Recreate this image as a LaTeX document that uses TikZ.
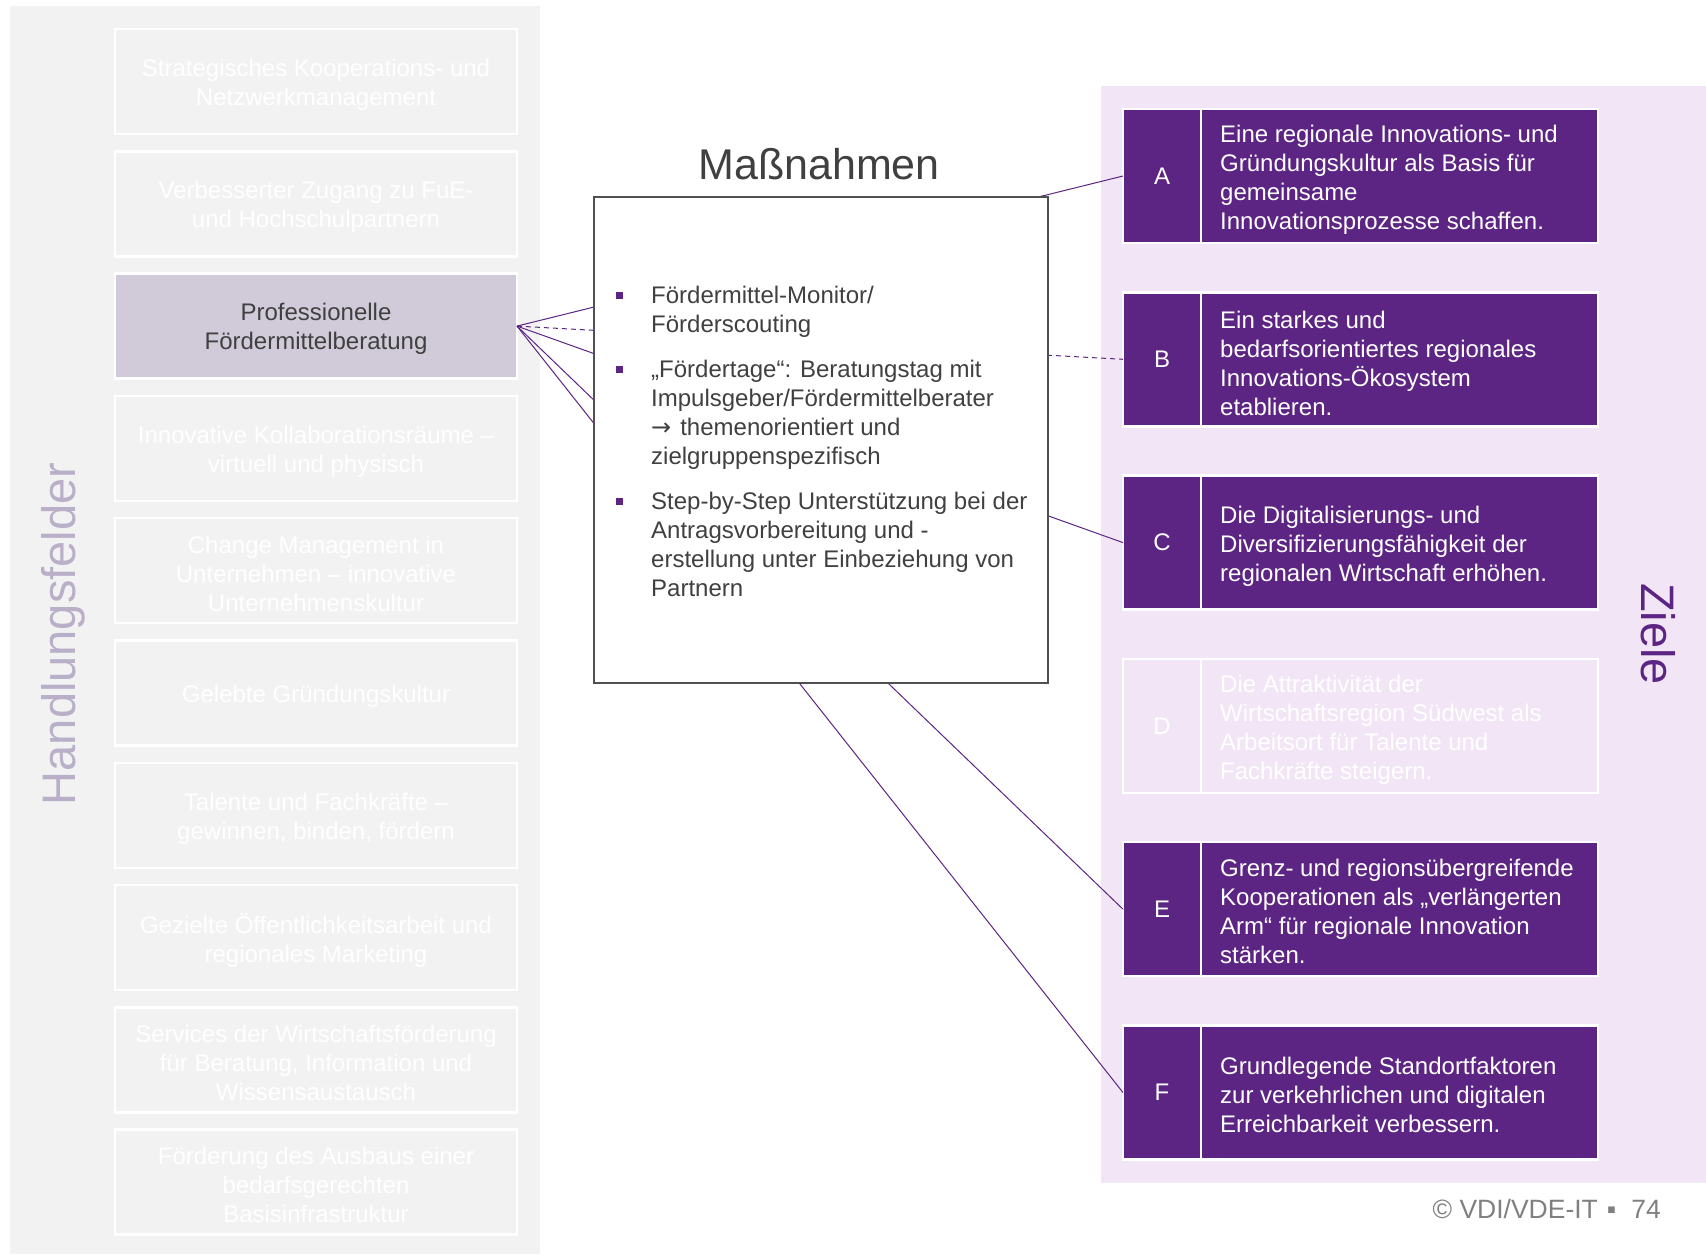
\documentclass[tikz,border=0pt]{standalone}
\usepackage{fontspec}
\setmainfont{Liberation Sans}
\newfontfamily\arrowfont{DejaVu Sans}
\definecolor{panelgray}{HTML}{F2F2F2}
\definecolor{hlfill}{HTML}{D1CAD9}
\definecolor{hfcol}{HTML}{B9AFC9}
\definecolor{lav}{HTML}{F2E6F6}
\definecolor{purp}{HTML}{5C2483}
\definecolor{dgray}{HTML}{404040}
\definecolor{boxline}{HTML}{505050}
\definecolor{footgray}{HTML}{808080}
\tikzset{
  fieldbox/.style={draw=white, line width=2.5pt, fill=panelgray, minimum width=402pt, minimum height=105pt, inner sep=0pt, outer sep=0pt},
  hlbox/.style={fieldbox, fill=hlfill},
  fieldtext/.style={inner sep=0pt, text=white, align=center, font=\fontsize{24}{29}\selectfont},
  hltext/.style={fieldtext, text=dgray},
  letterbox/.style={draw=white, line width=2.5pt, fill=purp, minimum width=78pt, minimum height=134pt, inner sep=0pt, outer sep=0pt, text=white, font=\fontsize{24}{29}\selectfont},
  goalbox/.style={draw=white, line width=2.5pt, fill=purp, minimum width=397pt, minimum height=134pt, inner sep=0pt, outer sep=0pt},
  fadedbox/.style={fill=lav},
  goaltext/.style={anchor=west, align=left, text=white, inner sep=0pt, font=\fontsize{24}{29}\selectfont},
  conn/.style={draw=purp, line width=1pt},
  dashconn/.style={conn, dash pattern=on 5pt off 4pt},
  bulletsq/.style={fill=purp, minimum size=7pt, inner sep=0pt},
  bullettext/.style={anchor=base west, inner sep=0pt, text=dgray, font=\fontsize{24}{29}\selectfont},
}
\newcommand{\blines}[1]{\begin{tabular}[t]{@{}l@{}}#1\end{tabular}}
\begin{document}
\begin{tikzpicture}[x=1pt,y=-1pt]
\useasboundingbox (0,0) rectangle (1706,1254);
% background panels
\fill[panelgray] (10,6) rectangle (540,1254);
\fill[lav] (1101,86) rectangle (1706,1183);

% Handlungsfelder boxes
\node[fieldbox] (f1) at (316,81.5) {};
\node[fieldtext] (f1t) at ([yshift=-3pt]f1.center) {Strategisches Kooperations- und\\Netzwerkmanagement};
\node[fieldbox] (f2) at (316,203.8) {};
\node[fieldtext] (f2t) at ([yshift=-3pt]f2.center) {Verbesserter Zugang zu FuE-\\und Hochschulpartnern};
\node[hlbox] (f3) at (316,326.1) {};
\node[hltext] (f3t) at ([yshift=-3pt]f3.center) {Professionelle\\Fördermittelberatung};
\node[fieldbox] (f4) at (316,448.4) {};
\node[fieldtext] (f4t) at ([yshift=-3pt]f4.center) {Innovative Kollaborationsräume –\\virtuell und physisch};
\node[fieldbox] (f5) at (316,570.7) {};
\node[fieldtext] (f5t) at ([yshift=-3pt]f5.center) {Change Management in\\Unternehmen – innovative\\Unternehmenskultur};
\node[fieldbox] (f6) at (316,693.0) {};
\node[fieldtext] (f6t) at ([yshift=-3pt]f6.center) {Gelebte Gründungskultur};
\node[fieldbox] (f7) at (316,815.3) {};
\node[fieldtext] (f7t) at ([yshift=-3pt]f7.center) {Talente und Fachkräfte –\\gewinnen, binden, fördern};
\node[fieldbox] (f8) at (316,937.6) {};
\node[fieldtext] (f8t) at ([yshift=-3pt]f8.center) {Gezielte Öffentlichkeitsarbeit und\\regionales Marketing};
\node[fieldbox] (f9) at (316,1059.9) {};
\node[fieldtext] (f9t) at ([yshift=-3pt]f9.center) {Services der Wirtschaftsförderung\\für Beratung, Information und\\Wissensaustausch};
\node[fieldbox] (f10) at (316,1182.2) {};
\node[fieldtext] (f10t) at ([yshift=-3pt]f10.center) {Förderung des Ausbaus einer\\bedarfsgerechten\\Basisinfrastruktur};

\node[rotate=90, anchor=base, inner sep=0pt, text=hfcol, font=\fontsize{47}{56}\selectfont] (hf) at (75,634) {Handlungsfelder};

% Ziele boxes
\node[letterbox] (gA) at (1162,176) {A};
\node[goalbox] (tA) at (1399.5,176) {};
\node[goaltext] (xA) at (1220,180) {Eine regionale Innovations- und\\Gründungskultur als Basis für\\gemeinsame\\Innovationsprozesse schaffen.};

\node[letterbox] (gB) at (1162,359.3) {B};
\node[goalbox] (tB) at (1399.5,359.3) {};
\node[goaltext] (xB) at (1220,363.3) {Ein starkes und\\bedarfsorientiertes regionales\\Innovations-Ökosystem\\etablieren.};

\node[letterbox] (gC) at (1162,542.6) {C};
\node[goalbox] (tC) at (1399.5,542.6) {};
\node[goaltext] (xC) at (1220,546.6) {Die Digitalisierungs- und\\Diversifizierungsfähigkeit der\\regionalen Wirtschaft erhöhen.};

\node[letterbox, fadedbox] (gD) at (1162,725.9) {D};
\node[goalbox, fadedbox] (tD) at (1399.5,725.9) {};
\node[goaltext] (xD) at (1220,729.9) {Die Attraktivität der\\Wirtschaftsregion Südwest als\\Arbeitsort für Talente und\\Fachkräfte steigern.};

\node[letterbox] (gE) at (1162,909.2) {E};
\node[goalbox] (tE) at (1399.5,909.2) {};
\node[goaltext] (xE) at (1220,911.5) {Grenz- und regionsübergreifende\\Kooperationen als „verlängerten\\Arm“ für regionale Innovation\\stärken.};

\node[letterbox] (gF) at (1162,1092.5) {F};
\node[goalbox] (tF) at (1399.5,1092.5) {};
\node[goaltext] (xF) at (1220,1094.5) {Grundlegende Standortfaktoren\\zur verkehrlichen und digitalen\\Erreichbarkeit verbessern.};

\node[rotate=-90, anchor=base, inner sep=0pt, text=purp, font=\fontsize{47}{56}\selectfont] (ziele) at (1641,634) {Ziele};

% connectors (behind the measures box)
\draw[conn] (f3.east) -- (gA.west);
\draw[dashconn] (f3.east) -- (gB.west);
\draw[conn] (f3.east) -- (gC.west);
\draw[conn] (f3.east) -- (gE.west);
\draw[conn] (f3.east) -- (gF.west);

% Massnahmen box
\node[anchor=base, inner sep=0pt, text=dgray, font=\fontsize{43}{51}\selectfont] (title) at (819,179) {Maßnahmen};
\node[draw=boxline, line width=1.8pt, fill=white, minimum width=454pt, minimum height=486pt, inner sep=0pt, outer sep=0pt] (mbox) at (821,440) {};

\node[bulletsq] (b1) at (619,295) {};
\node[bullettext] (m1) at (651,303) {\blines{Fördermittel-Monitor/\\Förderscouting}};
\node[bulletsq] (b2) at (619,369.5) {};
\node[bullettext] (m2) at (651,377.5) {\blines{„Fördertage“: Beratungstag mit\\Impulsgeber/Fördermittelberater\\{\arrowfont\fontsize{24}{29}\selectfont →}\hspace{9pt}themenorientiert und\\zielgruppenspezifisch}};
\node[bulletsq] (b3) at (619,501) {};
\node[bullettext] (m3) at (651,509) {\blines{Step-by-Step Unterstützung bei der\\Antragsvorbereitung und -\\erstellung unter Einbeziehung von\\Partnern}};

% footer
\node[anchor=base east, inner sep=0pt, text=footgray, font=\fontsize{26.5}{31}\selectfont] (foot) at (1661,1218) {© VDI/VDE-IT\hspace{9pt}▪\hspace{15pt}74};
\end{tikzpicture}
\end{document}
